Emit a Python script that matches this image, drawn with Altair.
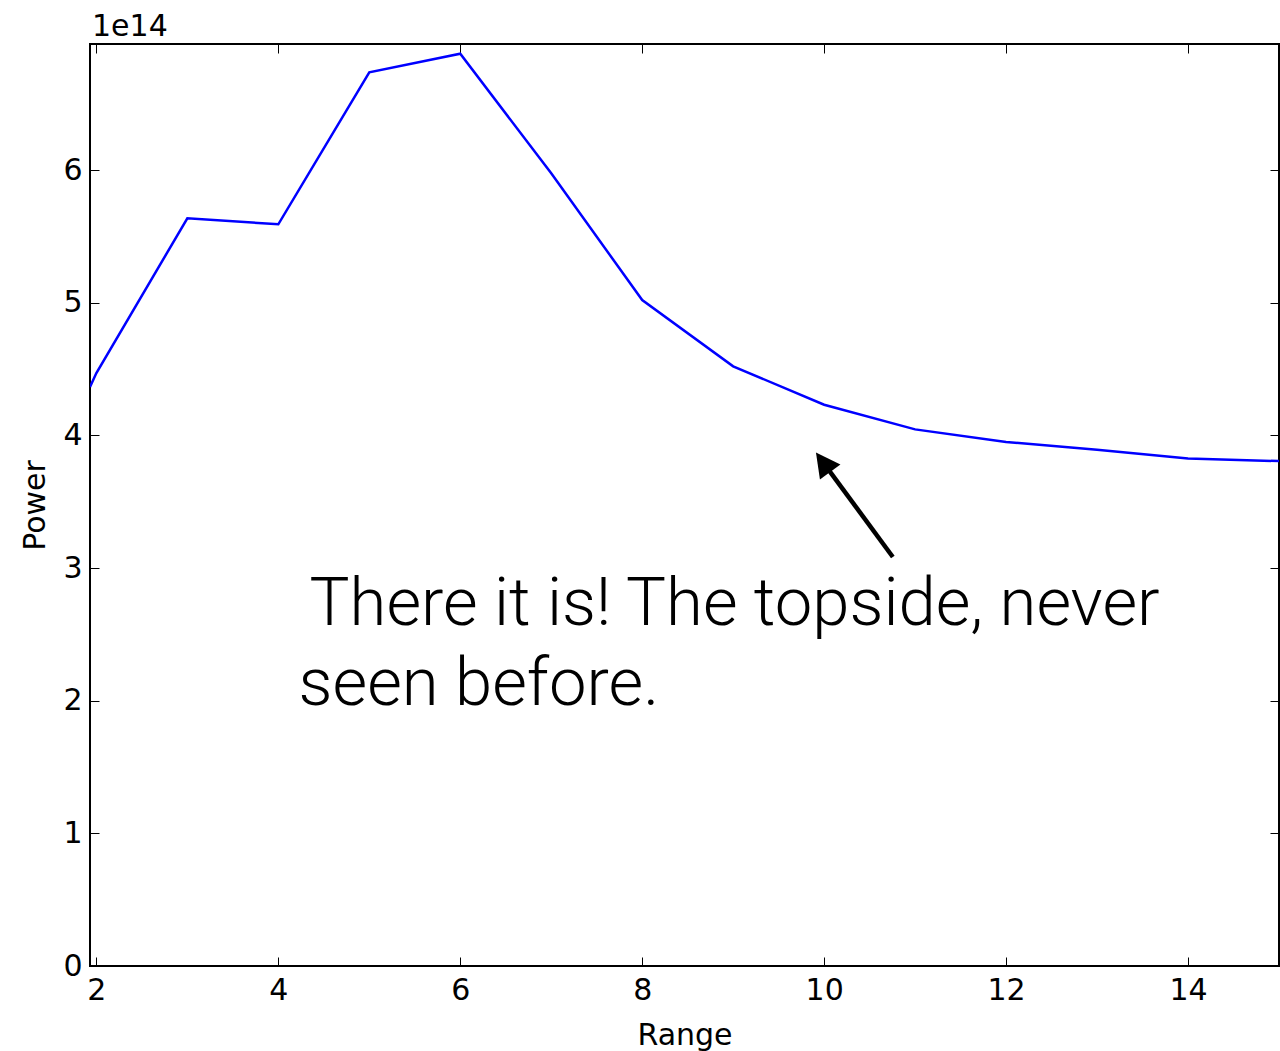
import math
import altair as alt
import pandas as pd

# Power (in units of 1e14) against range
range_vals = [1.93, 2, 3, 4, 5, 6, 7, 8, 9, 10, 11, 12, 13, 14, 15]
power_vals = [4.364, 4.470, 5.636, 5.591, 6.737, 6.877, 5.975, 5.020,
              4.520, 4.231, 4.045, 3.950, 3.892, 3.825, 3.806]

x_ticks = [2, 4, 6, 8, 10, 12, 14]
y_ticks = [0, 1, 2, 3, 4, 5, 6]

X_DOMAIN = [1.93, 15]
Y_DOMAIN = [0, 6.95]
W, H = 1189, 922

# annotation: arrow from the text towards the flattening tail of the curve
note_lines = ["There it is! The topside, never", "seen before."]
note_xy = (4.223, 2.570)
arrow_tip = (9.91, 3.87)
arrow_tail = (10.755, 3.083)

df = pd.DataFrame({"range": range_vals, "power": power_vals})

xs = alt.Scale(domain=X_DOMAIN, nice=False, zero=False)
ys = alt.Scale(domain=Y_DOMAIN, nice=False, zero=False)

# arrow geometry (screen-space direction for the head rotation)
sx = W / (X_DOMAIN[1] - X_DOMAIN[0])
sy = H / (Y_DOMAIN[1] - Y_DOMAIN[0])
dxp = (arrow_tip[0] - arrow_tail[0]) * sx
dyp = -(arrow_tip[1] - arrow_tail[1]) * sy
length_px = math.hypot(dxp, dyp)
head_len = 24
angle = math.degrees(math.atan2(dxp, -dyp)) % 360
frac = 1 - (head_len * 0.8) / length_px
shaft_end = (arrow_tail[0] + (arrow_tip[0] - arrow_tail[0]) * frac,
             arrow_tail[1] + (arrow_tip[1] - arrow_tail[1]) * frac)

FS = 30

line = alt.Chart(df).mark_line(color="#0000ff", strokeWidth=2.5, clip=True).encode(
    x=alt.X("range:Q", scale=xs,
            axis=alt.Axis(orient="bottom", values=x_ticks, title="Range",
                          ticks=False, domain=False, grid=False,
                          labelPadding=9, titlePadding=15)),
    y=alt.Y("power:Q", scale=ys,
            axis=alt.Axis(orient="left", values=y_ticks, title="Power",
                          ticks=False, domain=False, grid=False,
                          labelPadding=8, titlePadding=12)),
)

# inward ticks on the bottom and left edges
ticks_a = alt.Chart(df).mark_point(opacity=0).encode(
    x=alt.X("range:Q", scale=xs,
            axis=alt.Axis(orient="top", offset=-H, values=x_ticks, labels=False,
                          title=None, domain=False, grid=False, tickSize=9,
                          tickColor="black", tickWidth=1)),
    y=alt.Y("power:Q", scale=ys,
            axis=alt.Axis(orient="right", offset=-W, values=y_ticks, labels=False,
                          title=None, domain=False, grid=False, tickSize=9,
                          tickColor="black", tickWidth=1)),
)

# inward ticks on the top and right edges
ticks_b = alt.Chart(df).mark_point(opacity=0).encode(
    x=alt.X("range:Q", scale=xs,
            axis=alt.Axis(orient="bottom", offset=-H, values=x_ticks, labels=False,
                          title=None, domain=False, grid=False, tickSize=9,
                          tickColor="black", tickWidth=1)),
    y=alt.Y("power:Q", scale=ys,
            axis=alt.Axis(orient="left", offset=-W, values=y_ticks, labels=False,
                          title=None, domain=False, grid=False, tickSize=9,
                          tickColor="black", tickWidth=1)),
)

shaft_df = pd.DataFrame({"x": [arrow_tail[0]], "y": [arrow_tail[1]],
                         "x2": [shaft_end[0]], "y2": [shaft_end[1]]})
shaft = alt.Chart(shaft_df).mark_rule(color="black", strokeWidth=4.5).encode(
    x=alt.X("x:Q", scale=xs, axis=None),
    y=alt.Y("y:Q", scale=ys, axis=None),
    x2="x2:Q",
    y2="y2:Q",
)

head_df = pd.DataFrame({"x": [arrow_tip[0]], "y": [arrow_tip[1]]})
head = alt.Chart(head_df).mark_point(
    shape="M0,0L-0.53,1L0.53,1Z", size=(head_len * 2) ** 2, filled=True,
    color="black", opacity=1, strokeWidth=0, angle=angle,
).encode(
    x=alt.X("x:Q", scale=xs, axis=None),
    y=alt.Y("y:Q", scale=ys, axis=None),
)

note_font = dict(font="Roboto", fontWeight=300, fontSize=67, align="left",
                 baseline="alphabetic", color="black")
note1_df = pd.DataFrame({"x": [note_xy[0]], "y": [note_xy[1]], "t": [note_lines[0]]})
note2_df = pd.DataFrame({"x": [note_xy[0]], "y": [note_xy[1]], "t": [note_lines[1]]})
note1 = alt.Chart(note1_df).mark_text(dx=11, **note_font).encode(
    x=alt.X("x:Q", scale=xs, axis=None),
    y=alt.Y("y:Q", scale=ys, axis=None),
    text="t:N",
)
note2 = alt.Chart(note2_df).mark_text(dy=80, **note_font).encode(
    x=alt.X("x:Q", scale=xs, axis=None),
    y=alt.Y("y:Q", scale=ys, axis=None),
    text="t:N",
)

offset_label = alt.Chart(pd.DataFrame({"t": ["1e14"]})).mark_text(
    font="DejaVu Sans", fontSize=FS, align="left", baseline="alphabetic",
    color="black",
).encode(x=alt.value(2), y=alt.value(-8), text="t:N")

chart = alt.layer(
    line, ticks_a, ticks_b, shaft, head, note1, note2, offset_label
).resolve_axis(
    x="independent", y="independent"
).properties(
    width=W, height=H,
    autosize=alt.AutoSizeParams(type="none"),
    padding={"left": 90, "top": 44, "right": 1, "bottom": 85},
).configure_view(
    stroke="black", strokeWidth=2,
).configure_axis(
    labelFont="DejaVu Sans", labelFontSize=FS, labelColor="black",
    titleFont="DejaVu Sans", titleFontSize=FS, titleFontWeight="normal",
    titleColor="black",
)

chart.save("out.html", embed_options={"renderer": "svg", "actions": False})
